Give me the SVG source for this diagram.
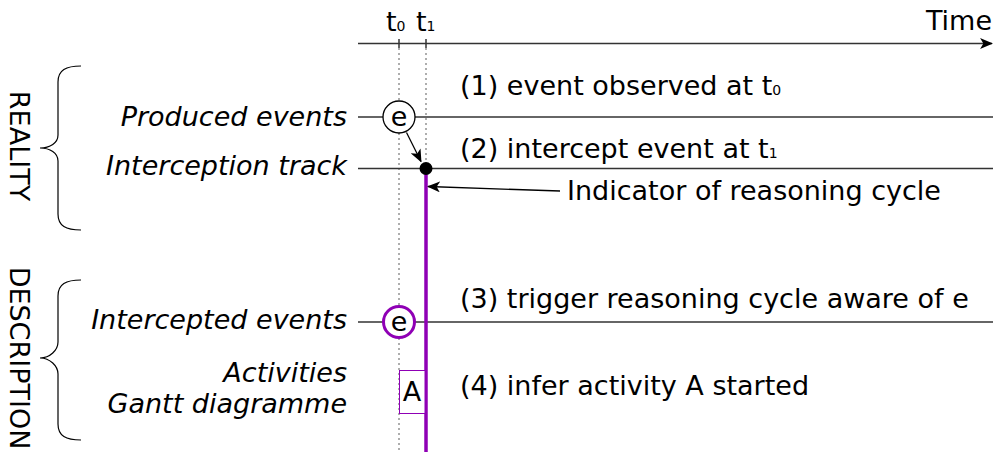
<svg xmlns="http://www.w3.org/2000/svg" width="997" height="452" viewBox="0 0 997 452">
<style>
text{font-family:"DejaVu Sans","Liberation Sans",sans-serif;font-size:27px;fill:#000}
.it{font-style:italic;text-anchor:end}
.ln{stroke:#333;stroke-width:1.5;fill:none}
.dot{stroke:#777;stroke-width:1.2;stroke-dasharray:2,3;fill:none}
.br{stroke:#000;stroke-width:1.2;fill:none}
.sub{font-size:14px}
</style>
<defs>
<marker id="ah" viewBox="0 0 12 10" refX="11" refY="5" markerWidth="13" markerHeight="11" markerUnits="userSpaceOnUse" orient="auto">
<path d="M0,0 L12,5 L0,10 L3,5 Z" fill="#000"/>
</marker>
</defs>
<rect width="997" height="452" fill="#fff"/>

<g id="axis">
<line class="ln" x1="358" y1="43.5" x2="992" y2="43.5" marker-end="url(#ah)"/>
<text x="992" y="30" text-anchor="end">Time</text>
<text x="386" y="31">t<tspan class="sub">0</tspan></text>
<text x="416" y="31">t<tspan class="sub">1</tspan></text>
<line class="ln" x1="399" y1="39" x2="399" y2="48"/>
<line class="ln" x1="426" y1="39" x2="426" y2="48"/>
</g>

<g id="guides">
<line class="dot" x1="399" y1="48" x2="399" y2="452"/>
<line class="dot" x1="426" y1="48" x2="426" y2="452"/>
</g>

<g id="braces">
<path class="br" d="M81,66 C66,66 58,70 58,82 L58,135 C58,143 50,148 40,148 C50,148 58,153 58,161 L58,214 C58,226 66,230 81,230"/>
<path class="br" d="M81,280 C66,280 58,284 58,296 L58,342 C58,350 50,358 40,358 C50,358 58,366 58,374 L58,424 C58,436 66,440 81,440"/>
<text transform="translate(10,146) rotate(90)" text-anchor="middle">REALITY</text>
<text transform="translate(10,358) rotate(90)" text-anchor="middle">DESCRIPTION</text>
</g>

<g id="tracks">
<line class="ln" x1="358" y1="117" x2="993" y2="117"/>
<line class="ln" x1="358" y1="168.5" x2="993" y2="168.5"/>
<line class="ln" x1="358" y1="322" x2="993" y2="322"/>
<text class="it" x="347" y="126">Produced events</text>
<text class="it" x="347" y="175">Interception track</text>
<text class="it" x="347" y="329">Intercepted events</text>
<text class="it" x="347" y="382">Activities</text>
<text class="it" x="347" y="413">Gantt diagramme</text>
</g>

<g id="cycle">
<line x1="426" y1="168" x2="426" y2="452" stroke="#8f00b5" stroke-width="3.5"/>
</g>

<g id="connectors">
<line x1="406.5" y1="132.5" x2="421" y2="161.5" stroke="#000" stroke-width="1.3" marker-end="url(#ah)"/>
<line x1="560" y1="191" x2="428" y2="186.5" stroke="#000" stroke-width="1.3" marker-end="url(#ah)"/>
</g>

<g id="event-produced">
<circle cx="399" cy="117" r="16" fill="#fff" stroke="#000" stroke-width="1.3"/>
<text x="399" y="126" text-anchor="middle">e</text>
</g>

<g id="intercept-dot">
<circle cx="426" cy="168.5" r="6.5" fill="#000"/>
</g>

<g id="event-intercepted">
<circle cx="399" cy="322" r="15.5" fill="#fff" stroke="#8f00b5" stroke-width="3"/>
<text x="399" y="331" text-anchor="middle">e</text>
</g>

<g id="activity-A">
<rect x="399.5" y="370.5" width="25.5" height="43" fill="#fff" stroke="#8f00b5" stroke-width="1"/>
<text x="412" y="401" text-anchor="middle">A</text>
</g>

<g id="notes">
<text x="460" y="95">(1) event observed at t<tspan class="sub">0</tspan></text>
<text x="460" y="158">(2) intercept event at t<tspan class="sub">1</tspan></text>
<text x="567" y="200">Indicator of reasoning cycle</text>
<text x="460" y="308">(3) trigger reasoning cycle aware of e</text>
<text x="460" y="395">(4) infer activity A started</text>
</g>
</svg>
